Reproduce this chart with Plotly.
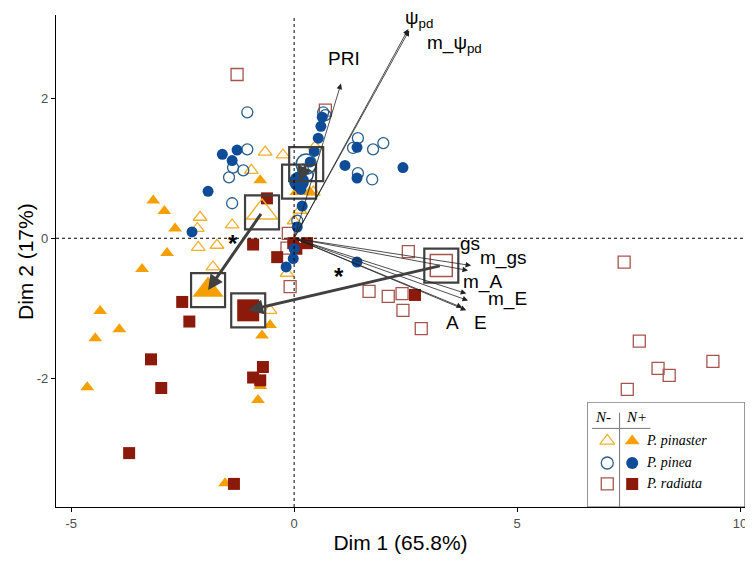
import plotly.graph_objects as go

# ---------------- data ----------------
pinaster_np_x = [-3.16, -2.91, -2.67, -2.85, -3.41, -4.35, -3.92, -4.46, -4.64, -0.76, 0.05, 0.35,
                 -0.54, -0.72, -0.76, -0.81, -1.55, 0.0]
pinaster_np_y = [0.54, 0.39, 0.14, -0.21, -0.44, -1.04, -1.30, -1.43, -2.13, 0.83, 0.66, 0.66,
                 -1.24, -1.39, -2.11, -2.31, -3.50, -0.05]

pinaster_nm_x = [-0.65, -0.25, -0.96, 0.47, -2.11, -1.39, -2.15, -1.73, -1.82, -0.16, -2.17,
                 -0.54, 0.43, 0.0, 0.13]
pinaster_nm_y = [1.23, 1.19, 0.97, 1.31, 0.30, 0.19, -0.13, -0.10, -0.41, -0.50, 0.14,
                 -1.03, 0.66, 0.25, 0.40]

pinea_np_x = [-1.61, -1.28, -1.39, -1.93, 0.63, 0.60, 0.54, 0.45, 0.36, 1.14, 1.41, 1.41, 2.44,
              0.18, -2.29, 0.07, -0.02, -0.18, 1.41, 0.15, 0.0]
pinea_np_y = [1.20, 1.26, 1.11, 0.67, 1.73, 1.60, 1.43, 1.24, 1.09, 1.04, 1.30, 0.86, 1.01,
              0.46, 0.09, 0.16, -0.29, -0.41, -0.34, 0.70, -0.15]

pinea_nm_x = [-1.05, -1.05, -1.37, -1.14, -1.46, -1.39, 1.43, 1.32, 1.77, 2.00, 1.43, 1.75,
              0.70, 0.65, 0.20, 0.07, 0.30]
pinea_nm_y = [1.80, 1.27, 1.01, 0.97, 0.87, 0.50, 1.43, 1.29, 1.27, 1.36, 0.93, 0.84,
              1.76, 1.80, 0.98, 0.25, 0.90]

radiata_np_x = [-2.51, -2.35, -3.21, -2.98, -3.70, -0.70, -0.92, -0.76, -1.35, -0.92, -0.38,
                -0.61, -0.02, 0.29, 2.71, 0.05]
radiata_np_y = [-0.91, -1.19, -1.73, -2.14, -3.07, -1.84, -1.99, -2.03, -3.51, -0.09, -0.27,
                0.57, -0.07, -0.07, -0.81, -0.15]

radiata_nm_x = [-1.28, 0.70, 2.56, 2.11, 2.42, 2.44, 2.85, 1.68, 7.40, 7.74, 8.16, 8.41, 9.39,
                7.47, -0.09, -0.13, -0.16]
radiata_nm_y = [2.34, 1.83, -0.19, -0.83, -0.79, -1.03, -1.29, -0.76, -0.34, -1.47, -1.86,
                -1.96, -1.76, -2.16, -0.69, 0.07, -0.14]

# group centroids (N- then N+)
centroid_species = ["P. pinaster", "P. pinea", "P. radiata"]
centroid_nm_x = [-0.72, 0.27, 3.30]
centroid_nm_y = [0.37, 1.06, -0.39]
centroid_np_x = [-1.93, 0.11, -1.03]
centroid_np_y = [-0.74, 0.81, -1.03]

# variable loadings (arrows from origin)
var_names = ["ψ<sub>pd</sub>", "m_ψ<sub>pd</sub>", "PRI", "gs", "m_gs", "m_A", "m_E", "A", "E"]
var_x = [2.56, 2.58, 1.05, 3.97, 3.90, 3.86, 3.90, 3.77, 3.86]
var_y = [2.99, 2.97, 2.21, -0.39, -0.46, -0.79, -0.89, -0.99, -1.03]
label_x = [2.80, 3.60, 1.12, 3.95, 4.68, 4.22, 4.78, 3.54, 4.17]
label_y = [3.14, 2.78, 2.57, -0.08, -0.28, -0.63, -0.87, -1.20, -1.20]

# significance asterisks
star_x = [-1.38, 1.00]
star_y = [-0.07, -0.55]

legend_species = ["P. pinaster", "P. pinea", "P. radiata"]

# ---------------- styles ----------------
ORANGE = "#F5A000"
ORANGE_O = "#F0B030"
BLUE = "#0F4C97"
BLUE_O = "#2A5F8C"
RED = "#8B1A0B"
RED_O = "#A5554E"
BOX = "#404040"
FONT = "Liberation Sans, Arial"

fig = go.Figure()

def pts(x, y, symbol, color, size, open_=False, lw=1.3, xaxis="x", yaxis="y"):
    if open_:
        marker = dict(symbol=symbol + "-open", size=size, color=color, line=dict(width=lw, color=color))
    else:
        marker = dict(symbol=symbol, size=size, color=color, line=dict(width=0))
    fig.add_trace(go.Scatter(x=x, y=y, mode="markers", marker=marker, showlegend=False,
                             hoverinfo="skip", xaxis=xaxis, yaxis=yaxis))

# individual points
pts(radiata_nm_x, radiata_nm_y, "square", RED_O, 12, open_=True)
pts(pinaster_nm_x, pinaster_nm_y, "triangle-up", ORANGE_O, 12, open_=True)
pts(pinea_nm_x, pinea_nm_y, "circle", BLUE_O, 11, open_=True)
pts(pinaster_np_x, pinaster_np_y, "triangle-up", ORANGE, 12)
pts(radiata_np_x, radiata_np_y, "square", RED, 12)
pts(pinea_np_x, pinea_np_y, "circle", BLUE, 11)

# centroids (big markers)
big_sym = ["triangle-up", "circle", "square"]
big_size = [27, 20, 22]
nm_col = [ORANGE_O, BLUE_O, RED_O]
np_col = [ORANGE, BLUE, RED]
for i in range(3):
    pts([centroid_nm_x[i]], [centroid_nm_y[i]], big_sym[i], nm_col[i], big_size[i], open_=True, lw=1.5)
    pts([centroid_np_x[i]], [centroid_np_y[i]], big_sym[i], np_col[i], big_size[i])

# boxes around centroids
fig.add_trace(go.Scatter(x=centroid_nm_x + centroid_np_x, y=centroid_nm_y + centroid_np_y,
                         mode="markers", showlegend=False, hoverinfo="skip",
                         marker=dict(symbol="square-open", size=34, color=BOX,
                                     line=dict(width=2.2, color=BOX))))

annotations = []
# variable arrows
for i in range(len(var_names)):
    annotations.append(dict(x=var_x[i], y=var_y[i], ax=0, ay=0, xref="x", yref="y",
                            axref="x", ayref="y", text="", showarrow=True,
                            arrowhead=2, arrowsize=1.4, arrowwidth=0.8, arrowcolor="#222222"))
    annotations.append(dict(x=label_x[i], y=label_y[i], xref="x", yref="y", text=var_names[i],
                            showarrow=False, font=dict(size=19, color="black", family=FONT)))
# centroid shift arrows
for i in range(3):
    annotations.append(dict(x=centroid_np_x[i], y=centroid_np_y[i],
                            ax=centroid_nm_x[i], ay=centroid_nm_y[i],
                            xref="x", yref="y", axref="x", ayref="y", text="", showarrow=True,
                            arrowhead=2, arrowsize=1.0, arrowwidth=3, arrowcolor=BOX))
# asterisks
for sx, sy in zip(star_x, star_y):
    annotations.append(dict(x=sx, y=sy, xref="x", yref="y", text="<b>*</b>", showarrow=False,
                            font=dict(size=24, color="black", family=FONT)))

# y axis title (as a rotated annotation so it sits where the reference has it)
annotations.append(dict(x=-0.045, y=0.5, xref="paper", yref="paper", text="Dim 2 (17%)",
                        textangle=-90, showarrow=False, xanchor="center", yanchor="middle",
                        font=dict(size=21, color="black", family=FONT)))

# ---------------- legend (drawn on an inset axis) ----------------
leg_rows = [0.63, 0.42, 0.22]
pts([0.127], [leg_rows[0]], "triangle-up", ORANGE_O, 13, open_=True, xaxis="x2", yaxis="y2")
pts([0.127], [leg_rows[1]], "circle", BLUE_O, 12, open_=True, xaxis="x2", yaxis="y2")
pts([0.127], [leg_rows[2]], "square", RED_O, 12, open_=True, xaxis="x2", yaxis="y2")
pts([0.285], [leg_rows[0]], "triangle-up", ORANGE, 13, xaxis="x2", yaxis="y2")
pts([0.285], [leg_rows[1]], "circle", BLUE, 12, xaxis="x2", yaxis="y2")
pts([0.285], [leg_rows[2]], "square", RED, 12, xaxis="x2", yaxis="y2")
for sp, ry in zip(legend_species, leg_rows):
    annotations.append(dict(x=0.36, y=ry, xref="x2", yref="y2", text="<i>" + sp + "</i>",
                            showarrow=False, xanchor="left",
                            font=dict(size=14, color="black", family="Liberation Serif")))
annotations.append(dict(x=0.10, y=0.86, xref="x2", yref="y2", text="<i>N-</i>", showarrow=False,
                        font=dict(size=15, color="black", family="Liberation Serif")))
annotations.append(dict(x=0.31, y=0.86, xref="x2", yref="y2", text="<i>N+</i>", showarrow=False,
                        font=dict(size=15, color="black", family="Liberation Serif")))

shapes = [
    dict(type="line", xref="paper", yref="y", x0=0, x1=1, y0=0, y1=0,
         line=dict(color="black", width=1, dash="3px,3px")),
    dict(type="line", xref="x", yref="paper", x0=0, x1=0, y0=0, y1=1,
         line=dict(color="black", width=1, dash="3px,3px")),
    dict(type="rect", xref="x2", yref="y2", x0=0, x1=1, y0=0, y1=1,
         line=dict(color="#555555", width=1.2), fillcolor="rgba(255,255,255,0)", layer="above"),
    dict(type="line", xref="x2", yref="y2", x0=0.03, x1=0.40, y0=0.75, y1=0.75,
         line=dict(color="#777777", width=1)),
    dict(type="line", xref="x2", yref="y2", x0=0.205, x1=0.205, y0=0.0, y1=0.90,
         line=dict(color="#777777", width=1)),
]

# the page body adds an 8 px offset; the figure is sized so the plot lands where the reference has it
fig.update_layout(
    width=745, height=546,
    margin=dict(l=48, r=8, t=7, b=47, autoexpand=False),
    plot_bgcolor="white", paper_bgcolor="white",
    showlegend=False,
    annotations=annotations, shapes=shapes,
    xaxis=dict(range=[-5.34, 10.11], tickvals=[-5, 0, 5, 10], ticktext=["-5", "0", "5", "10"],
               automargin=False,
               showgrid=False, zeroline=False, showline=True, linecolor="black", linewidth=1.2,
               ticks="outside", ticklen=4, tickcolor="black",
               tickfont=dict(size=13, color="#4D4D4D", family=FONT),
               title=dict(text="Dim 1 (65.8%)", font=dict(size=21, color="black", family=FONT),
                          standoff=6)),
    yaxis=dict(range=[-3.84, 3.19], tickvals=[-2, 0, 2], ticktext=["-2", "0", "2"],
               automargin=False,
               showgrid=False, zeroline=False, showline=True, linecolor="black", linewidth=1.2,
               ticks="outside", ticklen=4, tickcolor="black",
               tickfont=dict(size=13, color="#4D4D4D", family=FONT)),
    xaxis2=dict(domain=[0.771, 1.0], range=[0, 1], anchor="y2", visible=False, fixedrange=True),
    yaxis2=dict(domain=[0.0, 0.213], range=[0, 1], anchor="x2", visible=False, fixedrange=True),
)

fig.write_html("out.html")
